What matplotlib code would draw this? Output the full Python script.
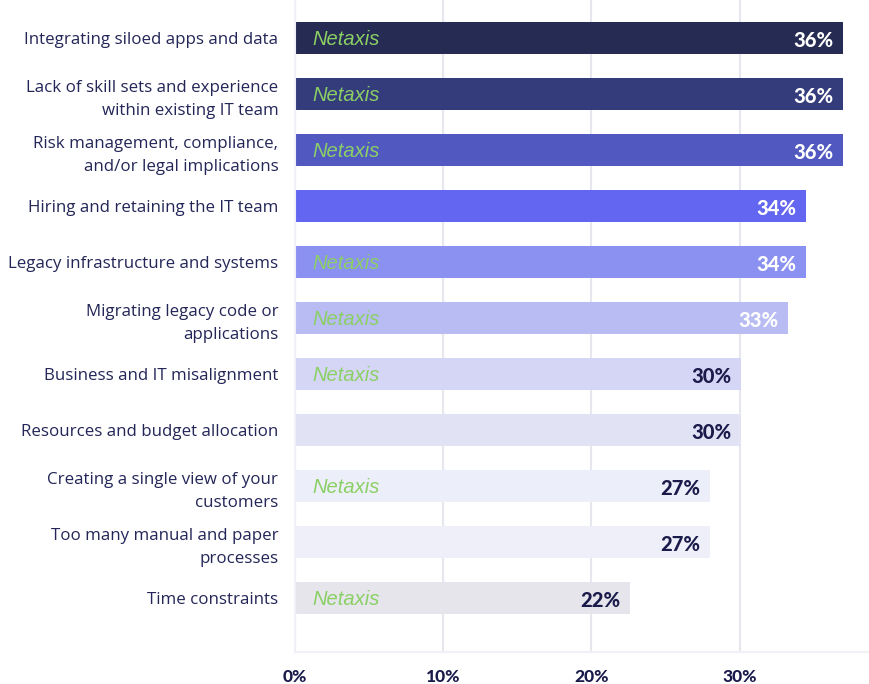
import matplotlib.pyplot as plt

# chart data
categories = [
    'Integrating siloed apps and data',
    'Lack of skill sets and experience\nwithin existing IT team',
    'Risk management, compliance,\nand/or legal implications',
    'Hiring and retaining the IT team',
    'Legacy infrastructure and systems',
    'Migrating legacy code or\napplications',
    'Business and IT misalignment',
    'Resources and budget allocation',
    'Creating a single view of your\ncustomers',
    'Too many manual and paper\nprocesses',
    'Time constraints',
]
values = [37.0, 37.0, 37.0, 34.5, 34.5, 33.3, 30.1, 30.1, 28.0, 28.0, 22.6]
value_labels = ['36%', '36%', '36%', '34%', '34%', '33%', '30%', '30%', '27%', '27%', '22%']
bar_colors = ['#252b52', '#353c7c', '#5159c1', '#6366f1', '#8b91f0', '#b8bcf2',
              '#d5d6f6', '#e1e3f5', '#eceef9', '#eeeff9', '#e5e5eb']
label_colors = ['white'] * 6 + ['#1a1b4b'] * 5
watermark = [True, True, True, False, True, True, True, False, True, False, True]
xticks = [0, 10, 20, 30]
xtick_labels = ['0%', '10%', '20%', '30%']

navy = '#232657'

fig = plt.figure(figsize=(8.7, 6.84), dpi=100)
ax = fig.add_axes([0.339, 0.047, 0.661, 0.953])

ypos = list(range(len(categories)))
ax.barh(ypos, values, height=0.57, color=bar_colors, zorder=2)

for y, v, lab, c, wm in zip(ypos, values, value_labels, label_colors, watermark):
    ax.text(v - 0.65, y + 0.05, lab, ha='right', va='center', fontsize=14.5,
            fontfamily='Lato', fontweight='black', color=c, zorder=3)
    if wm:
        ax.text(1.2, y + 0.02, 'Netaxis', ha='left', va='center', fontsize=14.5,
                fontfamily='Liberation Sans', style='italic', color='#8bd064',
                zorder=3)

ax.set_xlim(0, 38.8)
ax.set_ylim(10.96, -0.68)
ax.set_yticks(ypos)
ax.set_yticklabels(categories, fontsize=12.2, fontfamily='Open Sans',
                   fontweight='medium', color=navy, linespacing=1.6)
ax.set_xticks(xticks)
ax.set_xticklabels(xtick_labels, fontsize=12.5, fontfamily='Lato',
                   fontweight='black', color='#1a1b4b')
ax.tick_params(axis='both', length=0)
ax.tick_params(axis='y', pad=12)
ax.tick_params(axis='x', pad=12)

ax.grid(axis='x', color='#e6e6ee', linewidth=1.5, zorder=0)
for side in ['top', 'right']:
    ax.spines[side].set_visible(False)
ax.spines['left'].set_color('#f0f0f6')
ax.spines['bottom'].set_color('#f0f0f6')
ax.spines['left'].set_linewidth(1.5)
ax.spines['bottom'].set_linewidth(1.5)

fig.savefig('out.png', dpi=100)
